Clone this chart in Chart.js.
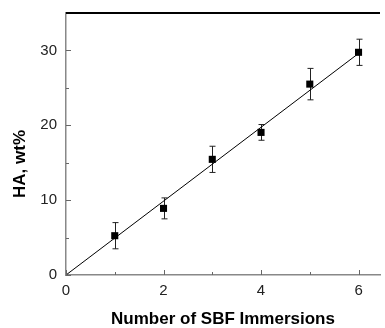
<!DOCTYPE html>
<html>
<head>
<meta charset="utf-8">
<script src="https://cdn.jsdelivr.net/npm/chart.js@4"></script>
<style>
  body { margin: 0; background: #fff; }
  #wrap { width: 385px; height: 328px; }
</style>
</head>
<body>
<div id="wrap"><canvas id="haChart"></canvas></div>
<script>
// data
const immersions = [1, 2, 3, 4, 5, 6];
const haWt = [5.25, 8.9, 15.45, 19.05, 25.5, 29.75];
const haErr = [1.75, 1.4, 1.75, 1.05, 2.1, 1.75];
const fitX = [0, 6];
const fitY = [0, 29.6];
const xTicks = [0, 2, 4, 6];
const xMinor = [1, 3, 5];
const yTicks = [0, 10, 20, 30];
const yMinor = [5, 15, 25];

const FONT = "'Liberation Sans', Arial, sans-serif";

// error bars + inward ticks + frame line + y title
const extras = {
  id: "extras",
  beforeDatasetsDraw(chart) {
    const ctx = chart.ctx;
    const xs = chart.scales.x, ys = chart.scales.y;
    ctx.save();
    ctx.strokeStyle = "#222";
    ctx.lineWidth = 1;
    immersions.forEach((v, i) => {
      const px = Math.round(xs.getPixelForValue(v)) + 0.5;
      const top = ys.getPixelForValue(haWt[i] + haErr[i]);
      const bot = ys.getPixelForValue(haWt[i] - haErr[i]);
      ctx.beginPath();
      ctx.moveTo(px, top); ctx.lineTo(px, bot);
      ctx.moveTo(px - 3, top); ctx.lineTo(px + 3, top);
      ctx.moveTo(px - 3, bot); ctx.lineTo(px + 3, bot);
      ctx.stroke();
    });
    ctx.restore();
  },
  afterDraw(chart) {
    const ctx = chart.ctx;
    const a = chart.chartArea;
    const xs = chart.scales.x, ys = chart.scales.y;
    ctx.save();
    ctx.strokeStyle = "#666";
    ctx.lineWidth = 1;
    ctx.beginPath();
    xTicks.forEach(v => {
      const px = Math.round(xs.getPixelForValue(v)) + 0.5;
      ctx.moveTo(px, a.bottom); ctx.lineTo(px, a.bottom - 5);
    });
    xMinor.forEach(v => {
      const px = Math.round(xs.getPixelForValue(v)) + 0.5;
      ctx.moveTo(px, a.bottom); ctx.lineTo(px, a.bottom - 3);
    });
    yTicks.forEach(v => {
      const py = Math.round(ys.getPixelForValue(v)) + 0.5;
      ctx.moveTo(a.left, py); ctx.lineTo(a.left + 5, py);
    });
    yMinor.forEach(v => {
      const py = Math.round(ys.getPixelForValue(v)) + 0.5;
      ctx.moveTo(a.left, py); ctx.lineTo(a.left + 3, py);
    });
    ctx.stroke();

    // top frame line
    ctx.strokeStyle = "#000";
    ctx.lineWidth = 2;
    ctx.beginPath();
    ctx.moveTo(a.left, a.top); ctx.lineTo(a.right, a.top);
    ctx.stroke();

    // y axis title
    ctx.translate(20, (a.top + a.bottom) / 2 + 20);
    ctx.rotate(-Math.PI / 2);
    ctx.fillStyle = "#000";
    ctx.font = "bold 17px " + FONT;
    ctx.textAlign = "center";
    ctx.textBaseline = "middle";
    ctx.fillText("HA, wt%", 0, 0);
    ctx.restore();
  }
};

new Chart(document.getElementById("haChart"), {
  type: "scatter",
  data: {
    datasets: [
      {
        type: "line",
        data: fitX.map((x, i) => ({ x: x, y: fitY[i] })),
        borderColor: "#000",
        borderWidth: 1,
        pointRadius: 0,
        fill: false,
      },
      {
        data: immersions.map((x, i) => ({ x: x, y: haWt[i] })),
        pointStyle: "rect",
        pointRadius: 5,
        backgroundColor: "#000",
        borderColor: "#000",
        borderWidth: 0,
      },
    ],
  },
  plugins: [extras],
  options: {
    responsive: true,
    maintainAspectRatio: false,
    animation: false,
    layout: { padding: { top: 13, right: 0, left: 0, bottom: 0 } },
    plugins: { legend: { display: false }, tooltip: { enabled: false } },
    scales: {
      x: {
        type: "linear",
        min: 0,
        max: 6.44,
        afterBuildTicks: (s) => { s.ticks = xTicks.map(v => ({ value: v })); },
        afterFit: (s) => { s.height = 53; s.paddingLeft = 0; s.paddingRight = 0; },
        grid: { display: false, drawTicks: false },
        border: { color: "#888", width: 1.5 },
        ticks: { color: "#222", padding: 7, font: { family: FONT, size: 15 } },
        title: {
          display: true,
          text: "Number of SBF Immersions",
          color: "#000",
          padding: { bottom: -2 },
          font: { family: FONT, size: 17, weight: "bold" },
        },
      },
      y: {
        type: "linear",
        min: 0,
        max: 35,
        afterBuildTicks: (s) => { s.ticks = yTicks.map(v => ({ value: v })); },
        afterFit: (s) => { s.width = 66; s.paddingTop = 0; s.paddingBottom = 0; },
        grid: { display: false, drawTicks: false },
        border: { color: "#888", width: 1.5 },
        ticks: { color: "#222", padding: 9, font: { family: FONT, size: 15 } },
      },
    },
  },
});
</script>
</body>
</html>
